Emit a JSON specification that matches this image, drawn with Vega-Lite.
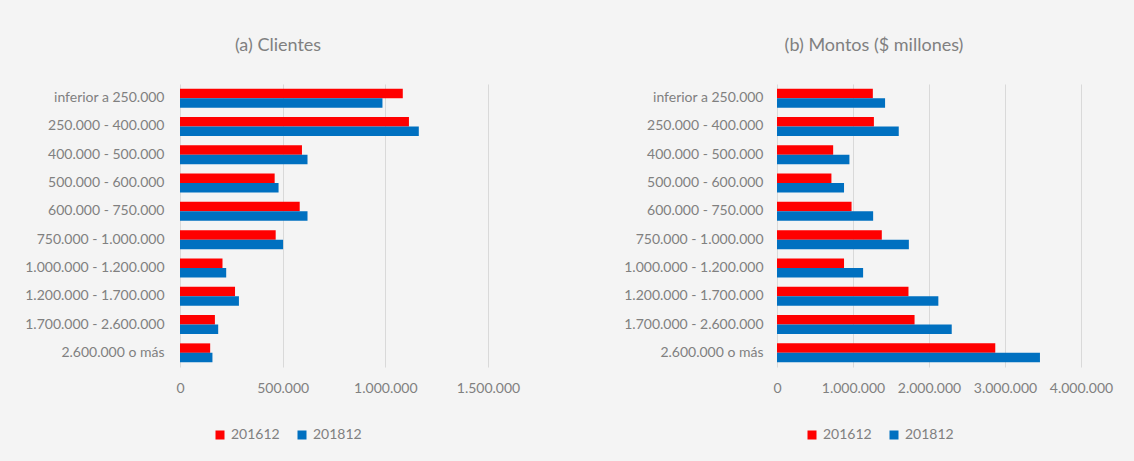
{
  "$schema": "https://vega.github.io/schema/vega-lite/v6.json",
  "background": "#f4f4f4",
  "padding": {"left": 20, "top": 37, "right": 60, "bottom": 30},
  "autosize": {"type": "pad"},
  "spacing": 97,
  "config": {
    "locale": {"number": {"decimal": ",", "thousands": ".", "grouping": [3], "currency": ["$", ""]}},
    "font": "Lato",
    "view": {"stroke": null},
    "axis": {"labelColor": "#808080", "labelFontSize": 14, "labelFont": "Lato", "ticks": false, "domain": false, "title": null},
    "title": {"color": "#808080", "fontSize": 18, "fontWeight": "normal", "font": "Lato", "frame": "group", "anchor": "middle", "offset": 29},
    "legend": {"labelColor": "#808080", "labelFontSize": 14, "labelFont": "Lato", "title": null, "orient": "none", "direction": "horizontal", "symbolType": "square", "symbolSize": 81, "symbolStrokeWidth": 0, "columnPadding": 15, "labelOffset": 4, "padding": 0}
  },
  "datasets": {
    "d": [
      {"rango": "inferior a 250.000", "periodo": "201612", "clientes": 1085000, "montos": 1261000},
      {"rango": "inferior a 250.000", "periodo": "201812", "clientes": 986000, "montos": 1422000},
      {"rango": "250.000 - 400.000", "periodo": "201612", "clientes": 1115000, "montos": 1275000},
      {"rango": "250.000 - 400.000", "periodo": "201812", "clientes": 1163000, "montos": 1602000},
      {"rango": "400.000 - 500.000", "periodo": "201612", "clientes": 594000, "montos": 739000},
      {"rango": "400.000 - 500.000", "periodo": "201812", "clientes": 621000, "montos": 953000},
      {"rango": "500.000 - 600.000", "periodo": "201612", "clientes": 461000, "montos": 716000},
      {"rango": "500.000 - 600.000", "periodo": "201812", "clientes": 480000, "montos": 882000},
      {"rango": "600.000 - 750.000", "periodo": "201612", "clientes": 583000, "montos": 981000},
      {"rango": "600.000 - 750.000", "periodo": "201812", "clientes": 621000, "montos": 1265000},
      {"rango": "750.000 - 1.000.000", "periodo": "201612", "clientes": 466000, "montos": 1379000},
      {"rango": "750.000 - 1.000.000", "periodo": "201812", "clientes": 502000, "montos": 1735000},
      {"rango": "1.000.000 - 1.200.000", "periodo": "201612", "clientes": 207000, "montos": 882000},
      {"rango": "1.000.000 - 1.200.000", "periodo": "201812", "clientes": 225000, "montos": 1133000},
      {"rango": "1.200.000 - 1.700.000", "periodo": "201612", "clientes": 268000, "montos": 1730000},
      {"rango": "1.200.000 - 1.700.000", "periodo": "201812", "clientes": 287000, "montos": 2123000},
      {"rango": "1.700.000 - 2.600.000", "periodo": "201612", "clientes": 170000, "montos": 1810000},
      {"rango": "1.700.000 - 2.600.000", "periodo": "201812", "clientes": 186000, "montos": 2299000},
      {"rango": "2.600.000 o más", "periodo": "201612", "clientes": 147000, "montos": 2872000},
      {"rango": "2.600.000 o más", "periodo": "201812", "clientes": 158000, "montos": 3460000}
    ]
  },
  "resolve": {"scale": {"color": "independent"}, "legend": {"color": "independent"}},
  "hconcat": [
    {
      "title": {"text": "(a) Clientes", "dx": -56},
      "width": 308,
      "height": 283,
      "data": {"name": "d"},
      "mark": {"type": "bar"},
      "encoding": {
        "y": {"field": "rango", "type": "nominal", "sort": null, "scale": {"paddingInner": 0.33, "paddingOuter": 0.165}, "axis": {"labelPadding": 16, "labelLimit": 300, "minExtent": 160, "maxExtent": 160}},
        "yOffset": {"field": "periodo", "type": "nominal", "sort": "ascending"},
        "x": {"field": "clientes", "type": "quantitative", "scale": {"domain": [0, 1500000], "nice": false}, "axis": {"values": [0, 500000, 1000000, 1500000], "format": ",d", "gridColor": "#d9d9d9", "gridWidth": 1, "labelPadding": 14, "labelOverlap": false, "labelFlush": false}},
        "color": {"field": "periodo", "type": "nominal", "scale": {"domain": ["201612", "201812"], "range": ["#ff0000", "#0070c0"]}, "legend": {"legendX": 33, "legendY": 344}}
      }
    },
    {
      "title": {"text": "(b) Montos ($ millones)", "dx": -55},
      "width": 304,
      "height": 283,
      "data": {"name": "d"},
      "mark": {"type": "bar"},
      "encoding": {
        "y": {"field": "rango", "type": "nominal", "sort": null, "scale": {"paddingInner": 0.33, "paddingOuter": 0.165}, "axis": {"labelPadding": 14, "labelLimit": 300, "minExtent": 160, "maxExtent": 160}},
        "yOffset": {"field": "periodo", "type": "nominal", "sort": "ascending"},
        "x": {"field": "montos", "type": "quantitative", "scale": {"domain": [0, 4000000], "nice": false}, "axis": {"values": [0, 1000000, 2000000, 3000000, 4000000], "format": ",d", "gridColor": "#d9d9d9", "gridWidth": 1, "labelPadding": 14, "labelOverlap": false, "labelFlush": false}},
        "color": {"field": "periodo", "type": "nominal", "scale": {"domain": ["201612", "201812"], "range": ["#ff0000", "#0070c0"]}, "legend": {"legendX": 28, "legendY": 344}}
      }
    }
  ]
}
